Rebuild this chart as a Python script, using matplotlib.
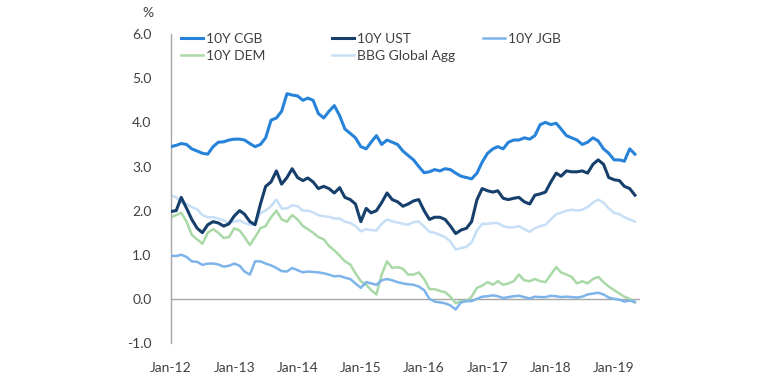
import numpy as np
import pandas as pd
import matplotlib
matplotlib.use("Agg")
import matplotlib.pyplot as plt
import matplotlib.dates as mdates

# monthly readings, Jan-12 .. May-19
dates = pd.date_range("2012-01-01", periods=89, freq="MS")

cgb = [3.45, 3.48, 3.52, 3.50, 3.40, 3.35, 3.30, 3.28, 3.45, 3.55, 3.56, 3.60,
       3.62, 3.62, 3.60, 3.52, 3.45, 3.50, 3.65, 4.05, 4.10, 4.25, 4.65, 4.62,
       4.60, 4.50, 4.55, 4.50, 4.20, 4.10, 4.25, 4.38, 4.15, 3.85, 3.75, 3.65,
       3.45, 3.40, 3.55, 3.70, 3.50, 3.60, 3.55, 3.50, 3.35, 3.25, 3.15, 3.00,
       2.86, 2.88, 2.93, 2.90, 2.95, 2.93, 2.85, 2.78, 2.75, 2.72, 2.85, 3.10,
       3.30, 3.40, 3.45, 3.40, 3.55, 3.60, 3.60, 3.65, 3.62, 3.70, 3.95, 4.00,
       3.95, 3.98, 3.85, 3.70, 3.65, 3.60, 3.50, 3.55, 3.65, 3.58, 3.40, 3.30,
       3.15, 3.15, 3.12, 3.40, 3.28]

ust = [1.98, 2.00, 2.30, 2.05, 1.80, 1.60, 1.50, 1.68, 1.75, 1.72, 1.65, 1.70,
       1.88, 2.00, 1.92, 1.75, 1.68, 2.15, 2.55, 2.65, 2.90, 2.60, 2.75, 2.95,
       2.75, 2.68, 2.74, 2.65, 2.50, 2.55, 2.50, 2.40, 2.52, 2.30, 2.25, 2.15,
       1.75, 2.05, 1.95, 2.00, 2.18, 2.40, 2.25, 2.20, 2.10, 2.15, 2.22, 2.25,
       2.00, 1.80, 1.85, 1.85, 1.80, 1.65, 1.48, 1.56, 1.60, 1.75, 2.25, 2.50,
       2.45, 2.42, 2.45, 2.28, 2.25, 2.28, 2.30, 2.20, 2.15, 2.35, 2.38, 2.42,
       2.65, 2.85, 2.78, 2.90, 2.88, 2.88, 2.90, 2.85, 3.05, 3.15, 3.05, 2.75,
       2.70, 2.68, 2.55, 2.50, 2.35]

jgb = [0.98, 0.97, 1.00, 0.95, 0.85, 0.84, 0.77, 0.80, 0.80, 0.78, 0.73, 0.75,
       0.80, 0.75, 0.62, 0.55, 0.85, 0.85, 0.80, 0.76, 0.70, 0.63, 0.62, 0.70,
       0.65, 0.60, 0.62, 0.61, 0.60, 0.58, 0.55, 0.51, 0.52, 0.48, 0.45, 0.35,
       0.25, 0.38, 0.35, 0.32, 0.42, 0.45, 0.42, 0.38, 0.35, 0.33, 0.32, 0.28,
       0.20, 0.00, -0.06, -0.08, -0.10, -0.15, -0.24, -0.08, -0.05, -0.05, 0.00, 0.05,
       0.06, 0.08, 0.06, 0.02, 0.04, 0.06, 0.07, 0.04, 0.01, 0.05, 0.04, 0.04,
       0.07, 0.06, 0.04, 0.05, 0.04, 0.03, 0.05, 0.10, 0.12, 0.14, 0.10, 0.03,
       0.00, -0.02, -0.06, -0.04, -0.07]

dem = [1.85, 1.90, 1.95, 1.75, 1.45, 1.35, 1.25, 1.50, 1.58, 1.50, 1.38, 1.40,
       1.60, 1.55, 1.40, 1.22, 1.40, 1.60, 1.65, 1.85, 2.00, 1.80, 1.75, 1.90,
       1.80, 1.65, 1.58, 1.50, 1.40, 1.35, 1.20, 1.10, 0.98, 0.85, 0.78, 0.58,
       0.40, 0.32, 0.20, 0.10, 0.55, 0.85, 0.70, 0.72, 0.68, 0.55, 0.55, 0.60,
       0.45, 0.22, 0.22, 0.18, 0.15, 0.05, -0.10, -0.05, -0.05, 0.05, 0.25, 0.30,
       0.38, 0.32, 0.40, 0.32, 0.35, 0.40, 0.55, 0.42, 0.40, 0.45, 0.40, 0.38,
       0.55, 0.72, 0.60, 0.55, 0.50, 0.35, 0.40, 0.35, 0.45, 0.50, 0.38, 0.28,
       0.20, 0.12, 0.05, 0.00, -0.08]

bbg = [2.35, 2.30, 2.18, 2.15, 2.08, 2.03, 1.90, 1.85, 1.85, 1.82, 1.78, 1.72,
       1.75, 1.78, 1.72, 1.68, 1.70, 1.95, 2.00, 2.10, 2.25, 2.05, 2.05, 2.12,
       2.10, 2.00, 2.00, 1.96, 1.90, 1.87, 1.86, 1.82, 1.82, 1.75, 1.72, 1.65,
       1.53, 1.58, 1.56, 1.55, 1.70, 1.80, 1.76, 1.73, 1.70, 1.68, 1.74, 1.75,
       1.64, 1.52, 1.50, 1.45, 1.40, 1.30, 1.12, 1.15, 1.18, 1.28, 1.55, 1.70,
       1.70, 1.72, 1.72, 1.65, 1.62, 1.62, 1.65, 1.58, 1.52, 1.60, 1.65, 1.68,
       1.80, 1.92, 1.95, 2.00, 2.02, 2.00, 2.02, 2.08, 2.18, 2.25, 2.18, 2.05,
       1.95, 1.92, 1.85, 1.80, 1.75]

plt.rcParams['font.family'] = ['Lato', 'DejaVu Sans']

fig = plt.figure(figsize=(7.8, 3.88), dpi=100)
ax = fig.add_axes([0.219, 0.116, 0.601, 0.796])

grey = '#A6A6A6'
txt = '#404040'
ax.axhline(0, color=grey, lw=1.0, zorder=1)

l_cgb, = ax.plot(dates, cgb, color='#2683D9', lw=2.2, label='10Y CGB', zorder=3)
l_bbg, = ax.plot(dates, bbg, color='#C6DEF6', lw=1.8, label='BBG Global Agg', zorder=2)
l_dem, = ax.plot(dates, dem, color='#A9D9A6', lw=1.8, label='10Y DEM', zorder=2)
l_jgb, = ax.plot(dates, jgb, color='#7DB4EA', lw=1.8, label='10Y JGB', zorder=3)
l_ust, = ax.plot(dates, ust, color='#163F6B', lw=2.2, label='10Y UST', zorder=4)

ax.set_ylim(-1, 6)
ax.set_yticks(np.arange(-1, 7, 1))
ax.set_yticklabels([f"{v:.1f}" for v in np.arange(-1, 7, 1)])
ax.set_xlim(pd.Timestamp("2012-01-01"), pd.Timestamp("2019-05-28"))
ax.xaxis.set_major_locator(mdates.YearLocator())
ax.xaxis.set_major_formatter(mdates.DateFormatter("%b-%y"))

for s in ['top', 'right', 'bottom']:
    ax.spines[s].set_visible(False)
ax.spines['left'].set_color(grey)
ax.spines['left'].set_linewidth(1.0)
ax.tick_params(axis='both', length=0, labelsize=10, colors=txt)
ax.tick_params(axis='y', pad=14)
ax.tick_params(axis='x', pad=14)

fig.text(0.182, 0.982, '%', fontsize=10, color=txt, ha='left', va='top')

# legend: three fixed-width columns like the original
columns = [([l_cgb, l_dem], 0.021), ([l_ust, l_bbg], 0.343), ([l_jgb], 0.665)]
legends = []
for handles, x0 in columns:
    leg = ax.legend(handles=handles, frameon=False, loc='upper left',
                    bbox_to_anchor=(x0, 1.005), borderpad=0, borderaxespad=0,
                    fontsize=10, handlelength=1.6, handletextpad=0.2,
                    labelspacing=0.4, labelcolor=txt)
    legends.append(leg)
for leg in legends[:-1]:
    ax.add_artist(leg)

fig.savefig("out.png", dpi=100)
